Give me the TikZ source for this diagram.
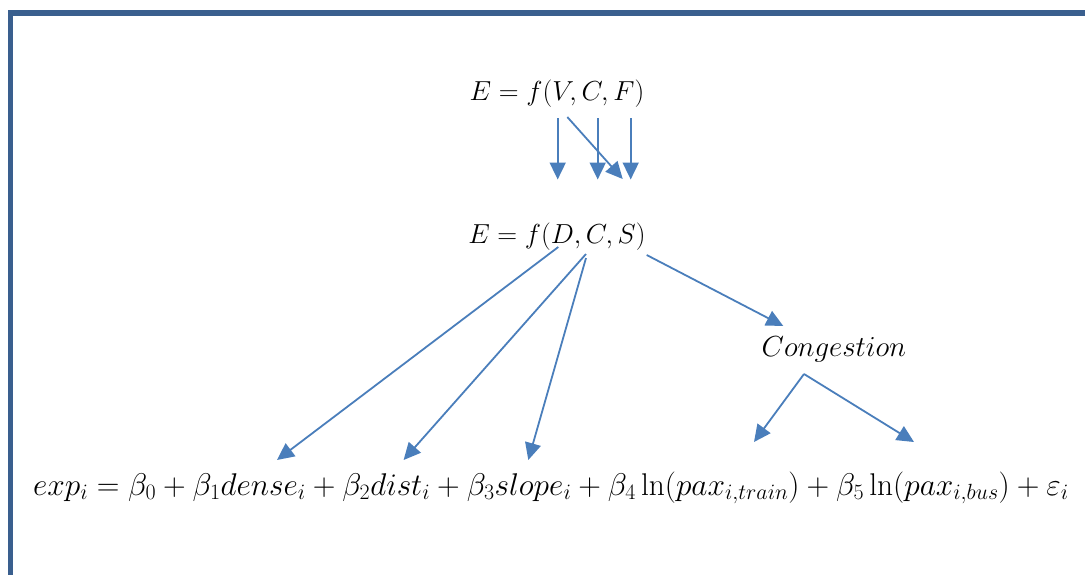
\RequirePackage{fix-cm}
\documentclass[tikz,border=0pt]{standalone}
\usepackage{amsmath}
\usepackage{tikz}
\usetikzlibrary{arrows.meta}
\definecolor{frameblue}{HTML}{3A5F8E}
\definecolor{arrblue}{HTML}{4A7EBB}
\tikzset{
  frm/.style={draw=frameblue,line width=5.5pt},
  eq/.style={inner sep=0pt,anchor=base,font=\fontsize{27.5}{32}\selectfont},
  eqcg/.style={eq,font=\fontsize{29}{34}\selectfont},
  eqm/.style={eq,anchor=base west,font=\fontsize{31.4}{36}\selectfont},
  arr/.style={-{Triangle[length=17pt,width=16pt]},draw=arrblue,line width=1.8pt},
}

\begin{document}
\begin{tikzpicture}[x=1pt,y=-1pt]
\useasboundingbox (0,0) rectangle (1085,574);
% the frame, open to the right and the bottom
\draw[frm] (10.5,580) -- (10.5,13) -- (1090,13);
% the two forms of the function and the estimated model
\node[eq] (vcf) at (557,100) {$E=f(V,C,F)$};
\node[eq] (dcs) at (557,243) {$E=f(D,C,S)$};
\node[eqcg] (cong) at (834,356) {$Congestion$};
\node[eqm] (model) at (33,495)
  {$exp_i=\beta_0+\beta_1dense_i+\beta_2dist_i+\beta_3slope_i
   +\beta_4\ln(pax_{i,train})+\beta_5\ln(pax_{i,bus})+\varepsilon_i$};
% ends of the arrows
\coordinate (a1) at (557.7,118); \coordinate (b1) at (557.7,179.5);
\coordinate (a2) at (597.7,118); \coordinate (b2) at (597.7,179.5);
\coordinate (a3) at (567.3,117); \coordinate (b3) at (622.7,179);
\coordinate (a4) at (630.7,118); \coordinate (b4) at (630.7,179.5);
\coordinate (d0) at (558.3,247); \coordinate (d1) at (277,460);
\coordinate (c0) at (586,254);   \coordinate (c1) at (403.6,460);
\coordinate (s0) at (586,258);   \coordinate (s1) at (528.3,460);
\coordinate (g0) at (646.7,255); \coordinate (g1) at (783.3,326);
\coordinate (k0) at (804,374);   \coordinate (k1) at (754,442);
\coordinate (k2) at (914,442);
% V, C, F become D, C, S
\draw[arr] (a1) -- (b1);
\draw[arr] (a2) -- (b2);
\draw[arr] (a3) -- (b3);
\draw[arr] (a4) -- (b4);
% D, C, S into the model terms
\draw[arr] (d0) -- (d1);
\draw[arr] (c0) -- (c1);
\draw[arr] (s0) -- (s1);
\draw[arr] (g0) -- (g1);
\draw[arr] (k0) -- (k1);
\draw[arr] (k0) -- (k2);
\end{tikzpicture}
\end{document}
